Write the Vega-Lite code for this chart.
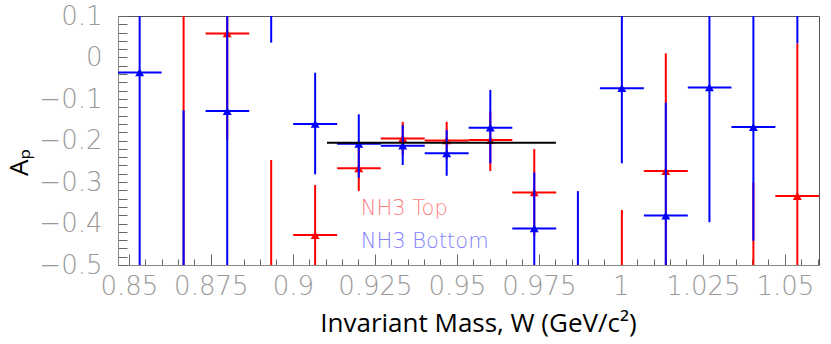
{
  "$schema": "https://vega.github.io/schema/vega-lite/v6.json",
  "width": 701,
  "height": 249,
  "autosize": "none",
  "padding": {"left": 118, "top": 16, "right": 12, "bottom": 79},
  "background": "white",
  "config": {
    "view": {"stroke": "#555555", "strokeWidth": 1},
    "axis": {"grid": false, "labelColor": "#999999", "labelFont": "DejaVu Sans", "labelFontWeight": 200, "labelFontSize": 26, "titleFont": "Open Sans", "titleFontWeight": "normal", "titleColor": "black"}
  },
  "datasets": {
    "pts": [
      {"W": 0.8533, "Wlo": 0.8467, "Whi": 0.8600, "series": "Bottom", "A": -0.036, "Alo": -0.8, "Ahi": 0.4},
      {"W": 0.8667, "Wlo": 0.8600, "Whi": 0.8734, "series": "Top", "A": 0.25, "Alo": -0.7, "Ahi": 0.5},
      {"W": 0.8667, "Wlo": 0.8600, "Whi": 0.8734, "series": "Bottom", "A": -0.65, "Alo": -1.0, "Ahi": -0.127},
      {"W": 0.8800, "Wlo": 0.8734, "Whi": 0.8867, "series": "Top", "A": 0.058, "Alo": -0.2, "Ahi": 0.3},
      {"W": 0.8800, "Wlo": 0.8734, "Whi": 0.8867, "series": "Bottom", "A": -0.129, "Alo": -0.8, "Ahi": 0.4},
      {"W": 0.8934, "Wlo": 0.8867, "Whi": 0.9001, "series": "Top", "A": -0.65, "Alo": -1.0, "Ahi": -0.247},
      {"W": 0.8934, "Wlo": 0.8867, "Whi": 0.9001, "series": "Bottom", "A": 0.25, "Alo": 0.036, "Ahi": 0.5},
      {"W": 0.9068, "Wlo": 0.9001, "Whi": 0.9135, "series": "Top", "A": -0.428, "Alo": -0.56, "Ahi": -0.307},
      {"W": 0.9068, "Wlo": 0.9001, "Whi": 0.9135, "series": "Bottom", "A": -0.160, "Alo": -0.2815, "Ahi": -0.0366},
      {"W": 0.9201, "Wlo": 0.9135, "Whi": 0.9268, "series": "Top", "A": -0.267, "Alo": -0.322, "Ahi": -0.21},
      {"W": 0.9201, "Wlo": 0.9135, "Whi": 0.9268, "series": "Bottom", "A": -0.208, "Alo": -0.29, "Ahi": -0.137},
      {"W": 0.9335, "Wlo": 0.9268, "Whi": 0.9402, "series": "Top", "A": -0.195, "Alo": -0.235, "Ahi": -0.155},
      {"W": 0.9335, "Wlo": 0.9268, "Whi": 0.9402, "series": "Bottom", "A": -0.2125, "Alo": -0.259, "Ahi": -0.163},
      {"W": 0.9469, "Wlo": 0.9402, "Whi": 0.9536, "series": "Top", "A": -0.200, "Alo": -0.245, "Ahi": -0.155},
      {"W": 0.9469, "Wlo": 0.9402, "Whi": 0.9536, "series": "Bottom", "A": -0.231, "Alo": -0.285, "Ahi": -0.175},
      {"W": 0.9602, "Wlo": 0.9536, "Whi": 0.9669, "series": "Top", "A": -0.199, "Alo": -0.2735, "Ahi": -0.13},
      {"W": 0.9602, "Wlo": 0.9536, "Whi": 0.9669, "series": "Bottom", "A": -0.169, "Alo": -0.255, "Ahi": -0.078},
      {"W": 0.9736, "Wlo": 0.9669, "Whi": 0.9803, "series": "Top", "A": -0.325, "Alo": -0.43, "Ahi": -0.2205},
      {"W": 0.9736, "Wlo": 0.9669, "Whi": 0.9803, "series": "Bottom", "A": -0.412, "Alo": -0.56, "Ahi": -0.277},
      {"W": 0.9869, "Wlo": 0.9803, "Whi": 0.9936, "series": "Bottom", "A": -0.6, "Alo": -0.9, "Ahi": -0.322},
      {"W": 1.0003, "Wlo": 0.9936, "Whi": 1.0070, "series": "Top", "A": -0.65, "Alo": -0.9, "Ahi": -0.3675},
      {"W": 1.0003, "Wlo": 0.9936, "Whi": 1.0070, "series": "Bottom", "A": -0.074, "Alo": -0.255, "Ahi": 0.2},
      {"W": 1.0137, "Wlo": 1.0070, "Whi": 1.0204, "series": "Top", "A": -0.2735, "Alo": -0.55, "Ahi": 0.010},
      {"W": 1.0137, "Wlo": 1.0070, "Whi": 1.0204, "series": "Bottom", "A": -0.381, "Alo": -0.65, "Ahi": -0.109},
      {"W": 1.0270, "Wlo": 1.0204, "Whi": 1.0337, "series": "Bottom", "A": -0.072, "Alo": -0.397, "Ahi": 0.25},
      {"W": 1.0404, "Wlo": 1.0337, "Whi": 1.0471, "series": "Top", "A": -0.65, "Alo": -1.0, "Ahi": -0.3},
      {"W": 1.0404, "Wlo": 1.0337, "Whi": 1.0471, "series": "Bottom", "A": -0.1675, "Alo": -0.4414, "Ahi": 0.2},
      {"W": 1.0538, "Wlo": 1.0471, "Whi": 1.0604, "series": "Top", "A": -0.334, "Alo": -0.6, "Ahi": 0.034},
      {"W": 1.0538, "Wlo": 1.0471, "Whi": 1.0604, "series": "Bottom", "A": 0.3, "Alo": 0.034, "Ahi": 0.6}
    ],
    "fit": [{"Wstart": 0.9104, "Wend": 0.9802, "A": -0.2053}],
    "labels": [
      {"W": 0.9207, "A": -0.365, "label": "NH3 Top", "series": "Top"},
      {"W": 0.9207, "A": -0.4446, "label": "NH3 Bottom", "series": "Bottom"}
    ]
  },
  "encoding": {
    "x": {"field": "W", "type": "quantitative", "scale": {"domain": [0.8467, 1.0604], "nice": false, "zero": false},
      "axis": {
        "title": "Invariant Mass, W (GeV/c²)", "titleFontSize": 26, "titleX": 360, "titleY": 66, "titleAlign": "center", "titleBaseline": "alphabetic",
        "values": [0.85,0.855,0.86,0.865,0.87,0.875,0.88,0.885,0.89,0.895,0.9,0.905,0.91,0.915,0.92,0.925,0.93,0.935,0.94,0.945,0.95,0.955,0.96,0.965,0.97,0.975,0.98,0.985,0.99,0.995,1,1.005,1.01,1.015,1.02,1.025,1.03,1.035,1.04,1.045,1.05,1.055,1.06],
        "format": "~g",
        "labelExpr": "abs(datum.value*40 - round(datum.value*40)) < 0.01 ? datum.label : ''",
        "labelOverlap": false, "labelFlush": false,
        "tickColor": "#666666", "tickWidth": 1,
        "tickSize": {"expr": "abs(datum.value*40 - round(datum.value*40)) < 0.01 ? -11 : -6"},
        "labelPadding": 19
      }
    },
    "y": {"field": "A", "type": "quantitative", "scale": {"domain": [-0.5, 0.1], "nice": false, "zero": false},
      "axis": {
        "title": "Aₚ", "titleFontSize": 26, "titleX": -91, "titleY": 146, "titleAlign": "center", "titleBaseline": "alphabetic", "titleAngle": -90,
        "values": [-0.5,-0.48,-0.46,-0.44,-0.42,-0.4,-0.38,-0.36,-0.34,-0.32,-0.3,-0.28,-0.26,-0.24,-0.22,-0.2,-0.18,-0.16,-0.14,-0.12,-0.1,-0.08,-0.06,-0.04,-0.02,0,0.02,0.04,0.06,0.08,0.1],
        "format": "~g",
        "labelExpr": "abs(datum.value*10 - round(datum.value*10)) < 0.01 ? datum.label : ''",
        "labelOverlap": false, "labelFlush": false,
        "tickColor": "#666666", "tickWidth": 1,
        "tickSize": -9,
        "labelPadding": 25
      }
    }
  },
  "layer": [
    {"data": {"name": "pts"}, "transform": [{"filter": "datum.series === 'Top'"}], "mark": {"type": "rule", "clip": true, "color": "#ff0000", "strokeWidth": 2}, "encoding": {"y": {"field": "Alo", "type": "quantitative"}, "y2": {"field": "Ahi"}}},
    {"data": {"name": "pts"}, "transform": [{"filter": "datum.series === 'Top'"}], "mark": {"type": "rule", "clip": true, "color": "#ff0000", "strokeWidth": 2}, "encoding": {"x": {"field": "Wlo", "type": "quantitative"}, "x2": {"field": "Whi"}}},
    {"data": {"name": "pts"}, "transform": [{"filter": "datum.series === 'Top'"}], "mark": {"type": "point", "clip": true, "shape": "triangle-up", "filled": true, "opacity": 1, "color": "#ff0000", "size": 80}},
    {"data": {"name": "pts"}, "transform": [{"filter": "datum.series === 'Bottom'"}], "mark": {"type": "rule", "clip": true, "color": "#0000ff", "strokeWidth": 2}, "encoding": {"y": {"field": "Alo", "type": "quantitative"}, "y2": {"field": "Ahi"}}},
    {"data": {"name": "pts"}, "transform": [{"filter": "datum.series === 'Bottom'"}], "mark": {"type": "rule", "clip": true, "color": "#0000ff", "strokeWidth": 2}, "encoding": {"x": {"field": "Wlo", "type": "quantitative"}, "x2": {"field": "Whi"}}},
    {"data": {"name": "pts"}, "transform": [{"filter": "datum.series === 'Bottom'"}], "mark": {"type": "point", "clip": true, "shape": "triangle-up", "filled": true, "opacity": 1, "color": "#0000ff", "size": 80}},
    {"data": {"name": "fit"}, "mark": {"type": "rule", "color": "black", "strokeWidth": 2}, "encoding": {"x": {"field": "Wstart", "type": "quantitative"}, "x2": {"field": "Wend"}}},
    {"data": {"name": "labels"}, "mark": {"type": "text", "align": "left", "baseline": "middle", "font": "DejaVu Sans", "fontWeight": 200, "fontSize": 21}, "encoding": {"text": {"field": "label"}, "color": {"field": "series", "type": "nominal", "scale": {"domain": ["Top", "Bottom"], "range": ["#ff7f7f", "#7f7fff"]}, "legend": null}}}
  ]
}
